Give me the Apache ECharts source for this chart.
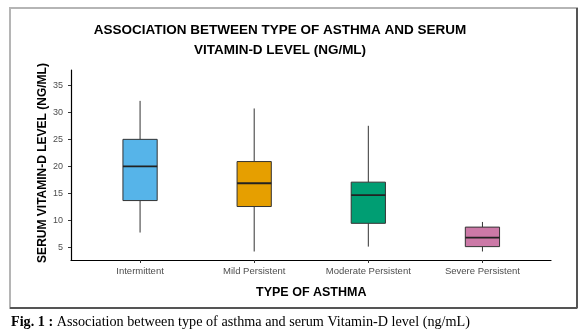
<!DOCTYPE html>
<html>
<head>
<meta charset="utf-8">
<script src="https://cdn.jsdelivr.net/npm/echarts@6/dist/echarts.min.js"></script>
<style>html,body{margin:0;padding:0;background:#fff;}#c{width:581px;height:332px;}</style>
</head>
<body>
<div id="c"></div>
<script>
// Data
var categories = ['Intermittent', 'Mild Persistent', 'Moderate Persistent', 'Severe Persistent'];
var whiskerLow = [7.8, 4.3, 5.2, 4.3];
var q1Values = [13.7, 12.6, 9.5, 5.2];
var medianValues = [20.0, 16.9, 14.7, 6.85];
var q3Values = [25.0, 20.9, 17.1, 8.8];
var whiskerHigh = [32.1, 30.7, 27.5, 9.75];
var yTicks = [5, 10, 15, 20, 25, 30, 35];

var boxColors = ['#56B4E9', '#E69F00', '#009E73', '#CC79A7'];
var boxData = categories.map(function (c, i) {
  return [i, whiskerLow[i], q1Values[i], medianValues[i], q3Values[i], whiskerHigh[i]];
});

var FONT = '"Liberation Sans", Arial, sans-serif';
var SERIF = '"Liberation Serif", "Times New Roman", serif';
var YMIN = 2.73, YMAX = 37.8;

var chart = echarts.init(document.getElementById('c'), null, {renderer: 'canvas'});
chart.setOption({
  animation: false,
  backgroundColor: '#fff',
  grid: [
    {left: 83, right: 41.5, top: 70, bottom: 72},
    {left: 71, right: 30, top: 70, bottom: 72}
  ],
  xAxis: [
    {
      gridIndex: 0, type: 'category', data: categories, boundaryGap: true,
      axisLine: {show: false},
      axisTick: {show: true, alignWithLabel: true, length: 3, lineStyle: {color: '#333', width: 1}},
      axisLabel: {color: '#4d4d4d', fontSize: 9.5, fontFamily: FONT, margin: 6},
      splitLine: {show: false},
      name: 'TYPE OF ASTHMA', nameLocation: 'middle', nameGap: 26,
      nameTextStyle: {fontFamily: FONT, fontWeight: 'bold', fontSize: 12.5, color: '#000'}
    },
    {
      gridIndex: 1, type: 'value', min: 0, max: 1,
      axisLine: {show: true, lineStyle: {color: '#000', width: 1.2}},
      axisTick: {show: false}, axisLabel: {show: false}, splitLine: {show: false}
    }
  ],
  yAxis: [
    {gridIndex: 0, type: 'value', min: YMIN, max: YMAX, show: false},
    {
      gridIndex: 1, type: 'value', min: YMIN, max: YMAX,
      axisLine: {show: true, lineStyle: {color: '#000', width: 1.2}},
      axisTick: {show: true, length: 3, customValues: yTicks, lineStyle: {color: '#333'}},
      axisLabel: {customValues: yTicks, color: '#4d4d4d', fontSize: 9, fontFamily: FONT, margin: 8},
      splitLine: {show: false}
    }
  ],
  series: [{
    type: 'custom',
    xAxisIndex: 0, yAxisIndex: 0,
    data: boxData,
    encode: {x: 0, y: [1, 2, 3, 4, 5]},
    renderItem: function (params, api) {
      var x = api.value(0);
      var lo = api.coord([x, api.value(1)]);
      var q1 = api.coord([x, api.value(2)]);
      var med = api.coord([x, api.value(3)]);
      var q3 = api.coord([x, api.value(4)]);
      var hi = api.coord([x, api.value(5)]);
      var bw = api.size([1, 0])[0] * 0.3;
      var cx = lo[0];
      var stroke = '#333';
      return {
        type: 'group',
        children: [
          {type: 'line', shape: {x1: cx, y1: hi[1], x2: cx, y2: q3[1]}, style: {stroke: stroke, lineWidth: 1}},
          {type: 'line', shape: {x1: cx, y1: q1[1], x2: cx, y2: lo[1]}, style: {stroke: stroke, lineWidth: 1}},
          {type: 'rect', shape: {x: cx - bw / 2, y: q3[1], width: bw, height: q1[1] - q3[1]},
            style: {fill: boxColors[params.dataIndex], stroke: stroke, lineWidth: 1}},
          {type: 'line', shape: {x1: cx - bw / 2, y1: med[1], x2: cx + bw / 2, y2: med[1]}, style: {stroke: '#222', lineWidth: 1.8}}
        ]
      };
    }
  }],
  graphic: [
    {type: 'rect', shape: {x: 10, y: 8, width: 567, height: 300}, style: {fill: 'none', stroke: '#b5b5b5', lineWidth: 2}, silent: true},
    {type: 'line', shape: {x1: 577, y1: 8, x2: 577, y2: 308}, style: {stroke: '#555', lineWidth: 2}, silent: true},
    {type: 'line', shape: {x1: 10, y1: 308, x2: 577, y2: 308}, style: {stroke: '#555', lineWidth: 2}, silent: true},
    {type: 'text', x: 280, y: 20, style: {
      text: 'ASSOCIATION BETWEEN TYPE OF ASTHMA AND SERUM\nVITAMIN-D LEVEL (NG/ML)',
      textAlign: 'center', textVerticalAlign: 'top', lineHeight: 20,
      font: 'bold 13.5px "Liberation Sans", Arial, sans-serif', fill: '#000'}},
    {type: 'text', x: 43, y: 163, rotation: Math.PI / 2, style: {
      text: 'SERUM VITAMIN-D LEVEL (NG/ML)',
      textAlign: 'center', textVerticalAlign: 'middle',
      font: 'bold 12px "Liberation Sans", Arial, sans-serif', fill: '#000'}},
    {type: 'text', x: 11, y: 315, style: {
      rich: {
        b: {fontFamily: SERIF, fontWeight: 'bold', fontSize: 14.2, fill: '#000'},
        n: {fontFamily: SERIF, fontSize: 14.2, fill: '#000'}
      },
      text: '{b|Fig. 1 :}{n| Association between type of asthma and serum Vitamin-D level (ng/mL)}',
      textVerticalAlign: 'top'}}
  ]
});
</script>
</body>
</html>
